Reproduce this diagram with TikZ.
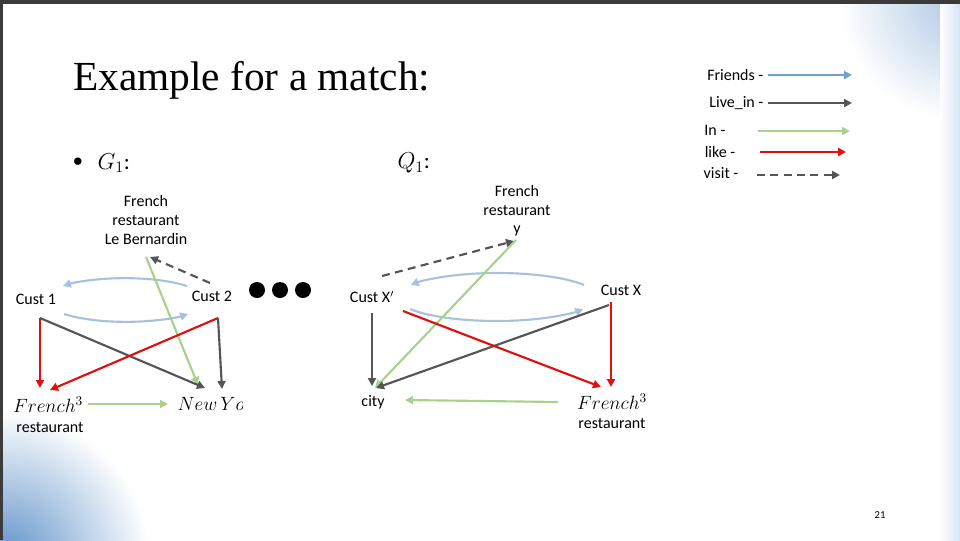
\documentclass[tikz,border=0pt]{standalone}
\usepackage{fontspec}
\setmainfont{Carlito}
\newfontfamily\titlefont{Liberation Serif}
\usetikzlibrary{arrows.meta}
\definecolor{fblue}{HTML}{6FA0D8}
\definecolor{lblue}{HTML}{A9C1DF}
\definecolor{dgray}{HTML}{555555}
\definecolor{lgreen}{HTML}{A9D18E}
\definecolor{lred}{HTML}{E01010}
\definecolor{bgblue}{HTML}{5C8FC8}
\begin{document}
\begin{tikzpicture}[x=0.75pt,y=-0.75pt,
  lab/.style={font=\fontsize{12}{14}\selectfont,inner sep=1pt,align=center},
  mth/.style={font=\fontsize{14}{16}\selectfont,inner sep=1pt},
  ar/.style={-{Triangle[length=6pt,width=6pt]},line width=1.6pt},
  fr/.style={ar,lblue},
  li/.style={ar,dgray},
  inn/.style={ar,lgreen},
  lk/.style={ar,lred},
  vi/.style={ar,dgray,dashed,dash pattern=on 6pt off 4pt}]
\useasboundingbox (0,0) rectangle (960,540);
\begin{scope}
\clip (0,0) rectangle (960,540);
\shade[inner color=bgblue,outer color=white] (0,560) circle (150);
\shade[inner color=bgblue!50,outer color=white] (960,0) circle (120);
\shade[left color=white,right color=bgblue!25] (940,0) rectangle (960,540);
\end{scope}
\fill[dgray!70!black] (0,0) rectangle (960,4);
\fill[dgray!70!black] (0,0) rectangle (3,540);
% title
\node[anchor=west,inner sep=0,font=\titlefont\fontsize{31}{34}\selectfont] (title) at (73,80) {Example for a match:};
% legend
\node[lab,anchor=east] (lf) at (765,75) {Friends -};
\node[lab,anchor=east] (ll) at (765,103) {Live\_in -};
\node[lab,anchor=east] (li2) at (727,130) {In -};
\node[lab,anchor=east] (lk2) at (737,152) {like -};
\node[lab,anchor=east] (lv) at (740,173) {visit -};
\coordinate (a1) at (852,75); \coordinate (a2) at (852,103);
\coordinate (a3) at (850,131); \coordinate (a4) at (846,152); \coordinate (a5) at (840,175);
\draw[ar,fblue] (lf.east)++(3,0) -- (a1);
\draw[li] (ll.east)++(3,0) -- (a2);
\draw[inn] (758,131) -- (a3);
\draw[lk] (760,152) -- (a4);
\draw[vi] (757,175) -- (a5);
% headers
\node[font=\fontsize{14}{15}\selectfont] (bul) at (78,162) {$\bullet$};
\node[mth,font=\fontsize{17}{19}\selectfont,anchor=west] (g1) at (96,163) {$G_1$:};
\node[mth,font=\fontsize{17}{19}\selectfont,anchor=west] (q1) at (396,163) {$Q_1$:};
% G1
\node[lab] (lb) at (146,220) {French\\restaurant\\Le Bernardin};
\node[lab] (c1) at (36,299) {Cust 1};
\node[lab] (c2) at (212,296) {Cust 2};
\node[mth] (fr1) at (48,405) {$French^3$};
\node[lab] (re1) at (50,427) {restaurant};
\begin{scope}
\clip (150,385) rectangle (242,420);
\node[mth,anchor=west] (ny) at (176,404) {$New\,York$};
\end{scope}
\draw[fr] (187,286) arc[start angle=-40,end angle=-140,x radius=81,y radius=22];
\draw[fr] (64,314) arc[start angle=140,end angle=40,x radius=81,y radius=22];
\draw[vi] (210,283) -- (150,257);
\draw[inn] (146,257) -- (198,385);
\foreach \x in {257,280,303} \fill (\x,290) circle (8);
\draw[lk] (40,318) -- (40,388);
\draw[li] (40,318) -- (205,388);
\draw[lk] (218,318) -- (50,390);
\draw[li] (218,318) -- (222,389);
\draw[inn] (88,404) -- (168,404);
% Q1
\node[lab] (y) at (517,211) {French\\restaurant\\y};
\node[lab] (cxp) at (372,297) {Cust X$'$};
\node[lab] (cx) at (621,290) {Cust X};
\node[lab] (city) at (373,402) {city};
\node[mth] (fr2) at (612,402) {$French^3$};
\node[lab] (re2) at (612,423) {restaurant};
\draw[fr] (584,285) arc[start angle=-30,end angle=-150,x radius=100,y radius=24];
\draw[fr] (410,309) arc[start angle=150,end angle=30,x radius=100,y radius=24];
\draw[vi] (382,276) -- (514,241);
\draw[inn] (516,240) -- (375,388);
\draw[li] (372,313) -- (372,386);
\draw[li] (609,305) -- (376,388);
\draw[lk] (403,311) -- (601,387);
\draw[lk] (611,302) -- (611,387);
\draw[inn] (558,402) -- (405,400);
\node[font=\fontsize{8}{9}\selectfont] (pg) at (880,515) {21};
\end{tikzpicture}
\end{document}
